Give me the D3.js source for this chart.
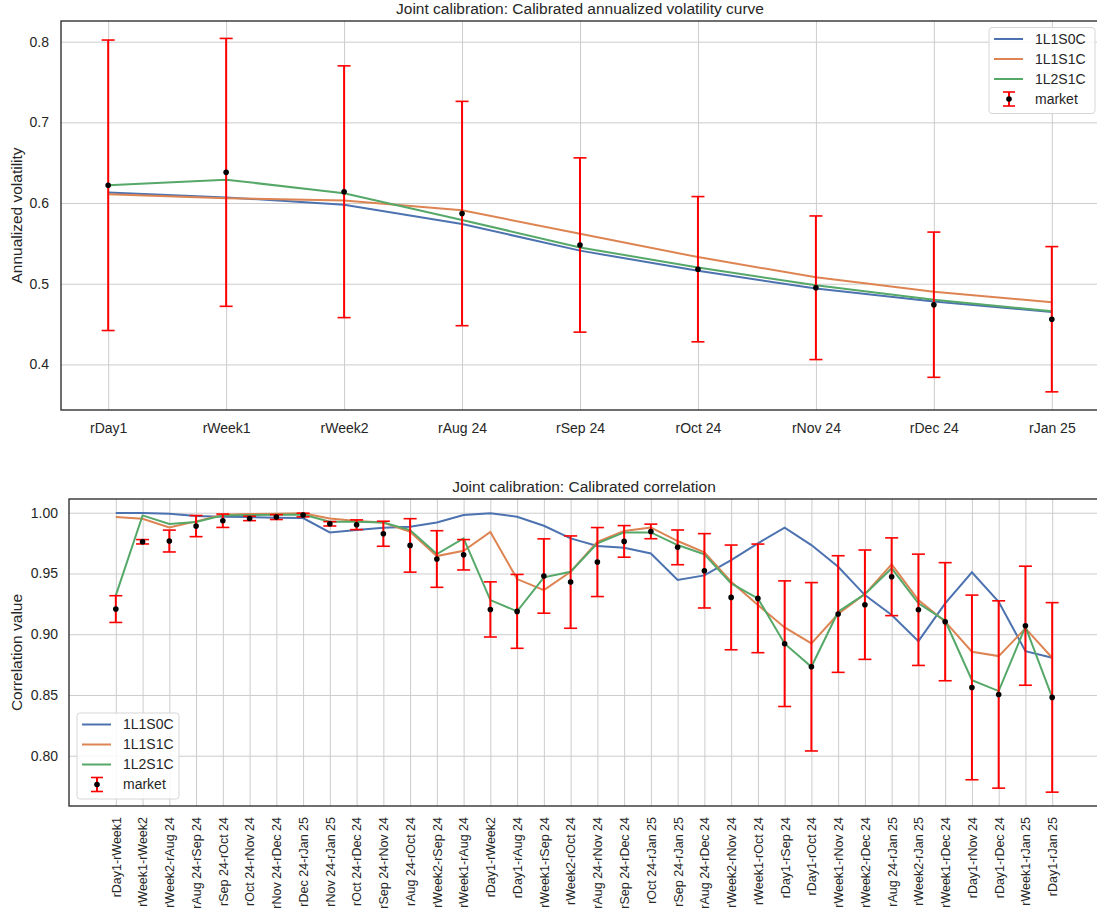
<!doctype html>
<html>
<head>
<script src="https://d3js.org/d3.v7.min.js"></script>
<style>
body { margin: 0; background: #fff; }
svg { font-family: "Liberation Sans", Arial, sans-serif; }
.grid line { stroke: #cccccc; stroke-width: 1; }
.grid path { display: none; }
.tick text { fill: #262626; }
</style>
</head>
<body>
<svg width="1097" height="913"></svg>
<script>
// volatility curve
var volLabels = ["rDay1", "rWeek1", "rWeek2", "rAug 24", "rSep 24", "rOct 24", "rNov 24", "rDec 24", "rJan 25"];
var volMarket = [0.622, 0.638, 0.614, 0.587, 0.548, 0.518, 0.495, 0.474, 0.456];
var volErr    = [0.180, 0.166, 0.156, 0.139, 0.108, 0.090, 0.089, 0.090, 0.090];
var vol1L1S0C = [0.613, 0.607, 0.598, 0.574, 0.541, 0.516, 0.494, 0.478, 0.465];
var vol1L1S1C = [0.611, 0.606, 0.603, 0.591, 0.562, 0.533, 0.508, 0.490, 0.477];
var vol1L2S1C = [0.622, 0.629, 0.612, 0.579, 0.545, 0.520, 0.498, 0.480, 0.466];
var volTicks = [0.4, 0.5, 0.6, 0.7, 0.8];

// correlation
var corrLabels = ["rDay1-rWeek1", "rWeek1-rWeek2", "rWeek2-rAug 24", "rAug 24-rSep 24", "rSep 24-rOct 24",
  "rOct 24-rNov 24", "rNov 24-rDec 24", "rDec 24-rJan 25", "rNov 24-rJan 25", "rOct 24-rDec 24",
  "rSep 24-rNov 24", "rAug 24-rOct 24", "rWeek2-rSep 24", "rWeek1-rAug 24", "rDay1-rWeek2",
  "rDay1-rAug 24", "rWeek1-rSep 24", "rWeek2-rOct 24", "rAug 24-rNov 24", "rSep 24-rDec 24",
  "rOct 24-rJan 25", "rSep 24-rJan 25", "rAug 24-rDec 24", "rWeek2-rNov 24", "rWeek1-rOct 24",
  "rDay1-rSep 24", "rDay1-rOct 24", "rWeek1-rNov 24", "rWeek2-rDec 24", "rAug 24-rJan 25",
  "rWeek2-rJan 25", "rWeek1-rDec 24", "rDay1-rNov 24", "rDay1-rDec 24", "rWeek1-rJan 25", "rDay1-rJan 25"];
var corrMarket = [0.9207, 0.9761, 0.9767, 0.9890, 0.9934, 0.9953, 0.9964, 0.9981, 0.9909, 0.9901,
  0.9827, 0.9731, 0.9619, 0.9654, 0.9204, 0.9188, 0.9479, 0.9429, 0.9594, 0.9764,
  0.9846, 0.9715, 0.9522, 0.9303, 0.9295, 0.8922, 0.8732, 0.9166, 0.9243, 0.9473,
  0.9201, 0.9103, 0.8562, 0.8504, 0.9070, 0.8480];
var corrErr = [0.011, 0.0018, 0.009, 0.0087, 0.0055, 0.0018, 0.002, 0.0015, 0.0018, 0.004,
  0.0103, 0.022, 0.0233, 0.0125, 0.0227, 0.0304, 0.0306, 0.038, 0.0284, 0.013,
  0.006, 0.0143, 0.0306, 0.0431, 0.0447, 0.0517, 0.0693, 0.048, 0.045, 0.032,
  0.0458, 0.0486, 0.076, 0.0771, 0.049, 0.078];
var corr1L1S0C = [0.9998, 0.9997, 0.9992, 0.9973, 0.9967, 0.9964, 0.9959, 0.9956, 0.9838, 0.9857,
  0.9877, 0.9885, 0.9920, 0.9981, 0.9995, 0.9967, 0.9893, 0.9789, 0.9726, 0.9712,
  0.9665, 0.9446, 0.9484, 0.9610, 0.9748, 0.9877, 0.9734, 0.9555, 0.9322, 0.9158,
  0.8943, 0.9254, 0.9509, 0.9267, 0.8861, 0.8806];
var corr1L1S1C = [0.9964, 0.9950, 0.9879, 0.9929, 0.9984, 0.9989, 0.9992, 0.9995, 0.9953, 0.9931,
  0.9920, 0.9844, 0.9643, 0.9687, 0.9841, 0.9454, 0.9363, 0.9514, 0.9761, 0.9849,
  0.9879, 0.9767, 0.9673, 0.9432, 0.9240, 0.9056, 0.8924, 0.9166, 0.9330, 0.9575,
  0.9281, 0.9103, 0.8856, 0.8820, 0.9048, 0.8806];
var corr1L2S1C = [0.9320, 0.9978, 0.9907, 0.9923, 0.9978, 0.9981, 0.9984, 0.9986, 0.9926, 0.9926,
  0.9920, 0.9857, 0.9660, 0.9789, 0.9281, 0.9188, 0.9468, 0.9514, 0.9748, 0.9838,
  0.9838, 0.9734, 0.9657, 0.9418, 0.9295, 0.8922, 0.8732, 0.9185, 0.9330, 0.9542,
  0.9254, 0.9111, 0.8622, 0.8532, 0.9062, 0.8480];
var corrTicks = [0.80, 0.85, 0.90, 0.95, 1.00];

var seriesNames = ["1L1S0C", "1L1S1C", "1L2S1C"];
var colors = ["#4C72B0", "#DD8452", "#55A868"];

var svg = d3.select("svg");

function panel(cfg) {
  var w = cfg.right - cfg.left, h = cfg.bottom - cfg.top;
  var n = cfg.labels.length;
  var pad = (n - 1) * 0.05;
  var x = d3.scaleLinear().domain([-pad, n - 1 + pad]).range([0, w]);
  var y = d3.scaleLinear().domain(cfg.yDomain).range([h, 0]);
  var g = svg.append("g").attr("transform", "translate(" + cfg.left + "," + cfg.top + ")");
  var idx = d3.range(n);

  // grid
  g.append("g").attr("class", "grid")
    .attr("transform", "translate(0," + h + ")")
    .call(d3.axisBottom(x).tickValues(idx).tickSize(-h).tickFormat(""));
  g.append("g").attr("class", "grid")
    .call(d3.axisLeft(y).tickValues(cfg.yTicks).tickSize(-w).tickFormat(""));

  // tick labels
  var xa = g.append("g").attr("transform", "translate(0," + h + ")")
    .call(d3.axisBottom(x).tickValues(idx).tickSize(0).tickFormat(function(i) { return cfg.labels[i]; }));
  xa.select(".domain").remove();
  xa.selectAll("text").style("font-size", cfg.xFont + "px").style("font-family", "inherit");
  if (cfg.rotate) {
    xa.selectAll("text")
      .attr("transform", "rotate(-90)")
      .attr("text-anchor", "end")
      .attr("x", -11).attr("y", 0).attr("dy", "0.35em");
  } else {
    xa.selectAll("text").attr("y", 13);
  }
  var ya = g.append("g")
    .call(d3.axisLeft(y).tickValues(cfg.yTicks).tickSize(0).tickFormat(d3.format(cfg.yFmt)).tickPadding(cfg.yPad));
  ya.select(".domain").remove();
  ya.selectAll("text").style("font-size", "14px").style("font-family", "inherit");

  // model lines
  var line = d3.line().x(function(d, i) { return x(i); }).y(function(d) { return y(d); });
  cfg.series.forEach(function(s, k) {
    g.append("path").datum(s)
      .attr("fill", "none").attr("stroke", colors[k]).attr("stroke-width", 2)
      .attr("d", line);
  });

  // market error bars
  var eb = g.append("g").selectAll("g").data(cfg.market).enter().append("g");
  eb.append("line")
    .attr("x1", function(d, i) { return x(i); }).attr("x2", function(d, i) { return x(i); })
    .attr("y1", function(d, i) { return y(d + cfg.err[i]); })
    .attr("y2", function(d, i) { return y(d - cfg.err[i]); })
    .attr("stroke", "red").attr("stroke-width", 2);
  [1, -1].forEach(function(sgn) {
    eb.append("line")
      .attr("x1", function(d, i) { return x(i) - 6.5; }).attr("x2", function(d, i) { return x(i) + 6.5; })
      .attr("y1", function(d, i) { return y(d + sgn * cfg.err[i]); })
      .attr("y2", function(d, i) { return y(d + sgn * cfg.err[i]); })
      .attr("stroke", "red").attr("stroke-width", 1.6);
  });
  eb.append("circle")
    .attr("cx", function(d, i) { return x(i); }).attr("cy", function(d) { return y(d); })
    .attr("r", 2.8).attr("fill", "black");

  // spines
  g.append("rect").attr("width", w).attr("height", h)
    .attr("fill", "none").attr("stroke", "#333333").attr("stroke-width", 1.4);

  // title and y label
  svg.append("text")
    .attr("x", cfg.left + w / 2).attr("y", cfg.top - 7)
    .attr("text-anchor", "middle").style("font-size", "15.5px").attr("fill", "#262626")
    .text(cfg.title);
  svg.append("text")
    .attr("text-anchor", "middle")
    .attr("transform", "translate(22," + (cfg.top + h / 2) + ")rotate(-90)")
    .style("font-size", "15.5px").attr("fill", "#262626")
    .text(cfg.yLabel);

  // legend
  var L = cfg.legend;
  var lg = svg.append("g").attr("transform", "translate(" + L.x + "," + L.y + ")");
  lg.append("rect").attr("width", L.w).attr("height", 86).attr("rx", 3)
    .attr("fill", "white").attr("fill-opacity", 0.85)
    .attr("stroke", "#d6d6d6").attr("stroke-width", 1);
  seriesNames.forEach(function(nm, k) {
    var yy = 11.5 + k * 20;
    lg.append("line").attr("x1", 5).attr("x2", 34).attr("y1", yy).attr("y2", yy)
      .attr("stroke", colors[k]).attr("stroke-width", 2);
    lg.append("text").attr("x", 46).attr("y", yy).attr("dy", "0.35em")
      .style("font-size", "14px").attr("fill", "#262626").text(nm);
  });
  var my = 11.5 + 3 * 20;
  lg.append("line").attr("x1", 20).attr("x2", 20).attr("y1", my - 7).attr("y2", my + 7)
    .attr("stroke", "red").attr("stroke-width", 2);
  [-7, 7].forEach(function(o) {
    lg.append("line").attr("x1", 14).attr("x2", 26).attr("y1", my + o).attr("y2", my + o)
      .attr("stroke", "red").attr("stroke-width", 1.6);
  });
  lg.append("circle").attr("cx", 20).attr("cy", my).attr("r", 2.8).attr("fill", "black");
  lg.append("text").attr("x", 46).attr("y", my).attr("dy", "0.35em")
    .style("font-size", "14px").attr("fill", "#262626").text("market");
}

panel({
  left: 61, right: 1099, top: 21, bottom: 410,
  labels: volLabels, yDomain: [0.3435, 0.8256], yTicks: volTicks, yFmt: ".1f", yPad: 12,
  series: [vol1L1S0C, vol1L1S1C, vol1L2S1C], market: volMarket, err: volErr,
  title: "Joint calibration: Calibrated annualized volatility curve",
  yLabel: "Annualized volatility", xFont: 14, rotate: false,
  legend: { x: 989, y: 27.5, w: 106 }
});

panel({
  left: 69, right: 1099, top: 499, bottom: 806,
  labels: corrLabels, yDomain: [0.7586, 1.0113], yTicks: corrTicks, yFmt: ".2f", yPad: 11,
  series: [corr1L1S0C, corr1L1S1C, corr1L2S1C], market: corrMarket, err: corrErr,
  title: "Joint calibration: Calibrated correlation",
  yLabel: "Correlation value", xFont: 12.5, rotate: true,
  legend: { x: 77, y: 713, w: 102 }
});
</script>
</body>
</html>
